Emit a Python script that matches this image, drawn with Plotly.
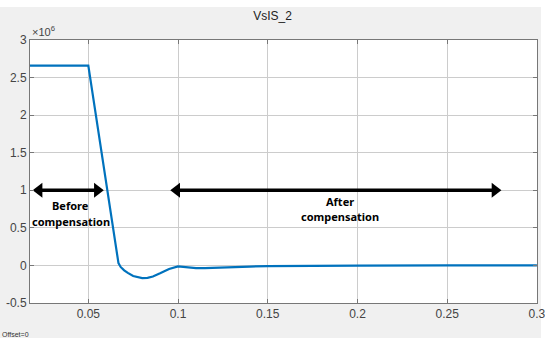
import plotly.graph_objects as go

# data (time in s, value in units of 1e6)
t = [0.0175, 0.05, 0.0668, 0.068, 0.070, 0.072, 0.075, 0.078, 0.080, 0.083, 0.086,
     0.090, 0.095, 0.100, 0.105, 0.110, 0.115, 0.120, 0.130, 0.140, 0.150, 0.170,
     0.200, 0.250, 0.300]
v = [2.66, 2.66, 0.03, -0.02, -0.065, -0.10, -0.14, -0.162, -0.168, -0.165, -0.148,
     -0.105, -0.048, -0.012, -0.025, -0.035, -0.035, -0.03, -0.022, -0.015, -0.01, -0.005,
     -0.002, 0.0, 0.0]
scale = 1e6
y = [val * scale for val in v]

x_ticks = [0.05, 0.1, 0.15, 0.2, 0.25, 0.3]
x_ticklabels = ["0.05", "0.1", "0.15", "0.2", "0.25", "0.3"]
y_ticks_m = [-0.5, 0, 0.5, 1, 1.5, 2, 2.5, 3]
y_ticklabels = ["-0.5", "0", "0.5", "1", "1.5", "2", "2.5", "3"]

before_span = [0.0202, 0.0574]
after_span = [0.0969, 0.279]
arrow_level = 1.0

fig = go.Figure()
fig.add_trace(go.Scatter(x=t, y=y, mode="lines",
                         line=dict(color="#0072BD", width=2.2),
                         hoverinfo="skip", showlegend=False))

shapes = []
for (a, b) in (before_span, after_span):
    shapes.append(dict(type="line", xref="x", yref="y", x0=a + 0.003, x1=b - 0.003,
                       y0=arrow_level * scale, y1=arrow_level * scale,
                       line=dict(color="black", width=3.5)))
    fig.add_trace(go.Scatter(x=[a + 0.0024, b - 0.0024], y=[arrow_level * scale] * 2,
                             mode="markers",
                             marker=dict(symbol=["triangle-left", "triangle-right"], size=13,
                                         color="black", line=dict(width=0)),
                             hoverinfo="skip", showlegend=False))

axis_common = dict(showgrid=True, gridcolor="#cccccc", gridwidth=1,
                   showline=True, linecolor="#777777", linewidth=1, mirror="ticks",
                   ticks="inside", ticklen=4, tickcolor="#777777", zeroline=False,
                   automargin=False, ticklabeloverflow="allow",
                   tickfont=dict(family="Liberation Sans, Arial", size=12, color="#444444"))

fig.update_xaxes(range=[0.0175, 0.30005], tickvals=x_ticks, ticktext=x_ticklabels, **axis_common)
fig.update_yaxes(range=[-0.5 * scale, 3 * scale], tickvals=[k * scale for k in y_ticks_m],
                 ticktext=y_ticklabels, **axis_common)

ann = []
txtfont = dict(family="Noto Sans, Arial", size=11, color="black")
ann.append(dict(x=0.0403, y=0.8 * scale, xref="x", yref="y", text="<b>Before</b>",
                showarrow=False, font=txtfont))
ann.append(dict(x=0.0403, y=0.59 * scale, xref="x", yref="y", text="<b>compensation</b>",
                showarrow=False, font=txtfont))
ann.append(dict(x=0.19, y=0.85 * scale, xref="x", yref="y", text="<b>After</b>",
                showarrow=False, font=txtfont))
ann.append(dict(x=0.19, y=0.65 * scale, xref="x", yref="y", text="<b>compensation</b>",
                showarrow=False, font=txtfont))
ann.append(dict(x=0, y=1, xref="paper", yref="paper", xanchor="left", yanchor="bottom",
                text="×10<sup>6</sup>", showarrow=False,
                font=dict(family="Liberation Sans, Arial", size=11, color="#444444")))
ann.append(dict(x=-30 / 507, y=-31 / 263, xref="paper", yref="paper", showarrow=False,
                xanchor="left", yanchor="middle",
                text="Offset=0", font=dict(family="Liberation Sans, Arial", size=7, color="#333333")))

shapes += [
    dict(type="rect", xref="paper", yref="paper", x0=-30 / 507, x1=1 + 8 / 507,
         y0=1 + 33 / 263, y1=1 + 40 / 263, fillcolor="white", line=dict(width=0), layer="below"),
    dict(type="rect", xref="paper", yref="paper", x0=1 + 4 / 507, x1=1 + 8 / 507,
         y0=-35 / 263, y1=1 + 40 / 263, fillcolor="white", line=dict(width=0), layer="below"),
]

fig.update_layout(
    width=545, height=338,
    margin=dict(l=30, r=8, t=40, b=35),
    paper_bgcolor="#f0f0f0", plot_bgcolor="white",
    title=dict(text="VsIS_2", x=0.5, xanchor="center", y=1 - 16 / 338, yanchor="middle",
               font=dict(family="Liberation Sans, Arial", size=12, color="#222222")),
    annotations=ann,
    shapes=shapes,
)

fig.write_html("out.html")
